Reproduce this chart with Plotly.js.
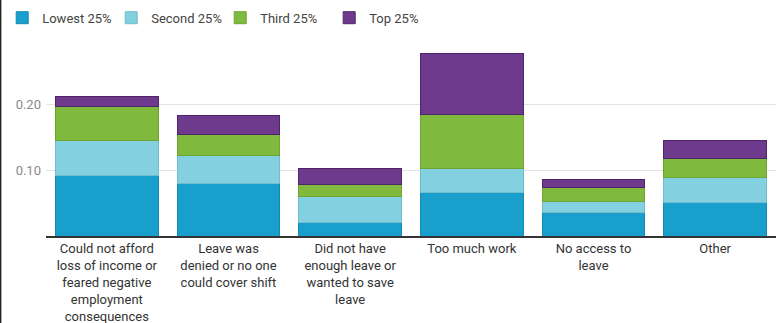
<!DOCTYPE html>
<html>
<head>
<meta charset="utf-8">
<script src="https://cdn.plot.ly/plotly-3.0.1.min.js"></script>
<style>
html,body{margin:0;padding:0;background:#fff;}
#chart{width:777px;height:323px;}
</style>
</head>
<body>
<div id="chart"></div>
<script>
const categories = [
  "Could not afford<br>loss of income or<br>feared negative<br>employment<br>consequences",
  "Leave was<br>denied or no one<br>could cover shift",
  "Did not have<br>enough leave or<br>wanted to save<br>leave",
  "Too much work",
  "No access to<br>leave",
  "Other"
];
const seriesNames = ["Lowest 25%", "Second 25%", "Third 25%", "Top 25%"];
const lowest = [0.092, 0.080, 0.021, 0.066, 0.035, 0.051];
const second = [0.052, 0.042, 0.039, 0.037, 0.018, 0.037];
const third  = [0.052, 0.032, 0.018, 0.081, 0.021, 0.029];
const top25  = [0.015, 0.028, 0.024, 0.092, 0.011, 0.028];
const tickVals = [0.10, 0.20];
const tickText = ["0.10", "0.20"];

const colors = ["#189fcc", "#83d0e1", "#7fba3f", "#6e3a8e"];
const lineColors = ["#1589b0", "#72bccc", "#6ea434", "#4e2568"];
const values = [lowest, second, third, top25];

const data = values.map((v, i) => ({
  type: "bar",
  name: seriesNames[i],
  x: categories,
  y: v,
  marker: {color: colors[i], line: {color: lineColors[i], width: 1}},
  hoverinfo: "none"
}));

const layout = {
  width: 777,
  height: 323,
  margin: {l: 46, r: 1, t: 40, b: 87},
  barmode: "stack",
  bargap: 0.155,
  paper_bgcolor: "#fff",
  plot_bgcolor: "#fff",
  font: {family: "Roboto, sans-serif", size: 13, color: "#333"},
  showlegend: true,
  legend: {
    orientation: "h",
    x: -0.06, xanchor: "left",
    y: 1.19, yanchor: "top",
    traceorder: "normal",
    font: {size: 13, color: "#444"},
    itemwidth: 30,
    entrywidth: 64,
    entrywidthmode: "pixels"
  },
  xaxis: {
    showgrid: false,
    showline: true,
    linecolor: "#333",
    linewidth: 1.5,
    ticks: "",
    tickangle: 0,
    tickfont: {size: 13, color: "#333"},
    automargin: false
  },
  yaxis: {
    range: [0, 0.297],
    tickvals: tickVals,
    ticktext: tickText,
    showgrid: true,
    gridcolor: "#e3e3e3",
    gridwidth: 1,
    zeroline: false,
    showline: false,
    ticks: "",
    ticklabelstandoff: 4,
    tickfont: {size: 13, color: "#8a8a8a"},
    automargin: false
  },
  shapes: [{
    type: "line", xref: "paper", yref: "paper",
    x0: -0.0625, x1: -0.0625, y0: -0.5, y1: 1.3,
    line: {color: "#222", width: 2}
  }]
};

Plotly.newPlot("chart", data, layout, {displayModeBar: false, staticPlot: true});
</script>
</body>
</html>
